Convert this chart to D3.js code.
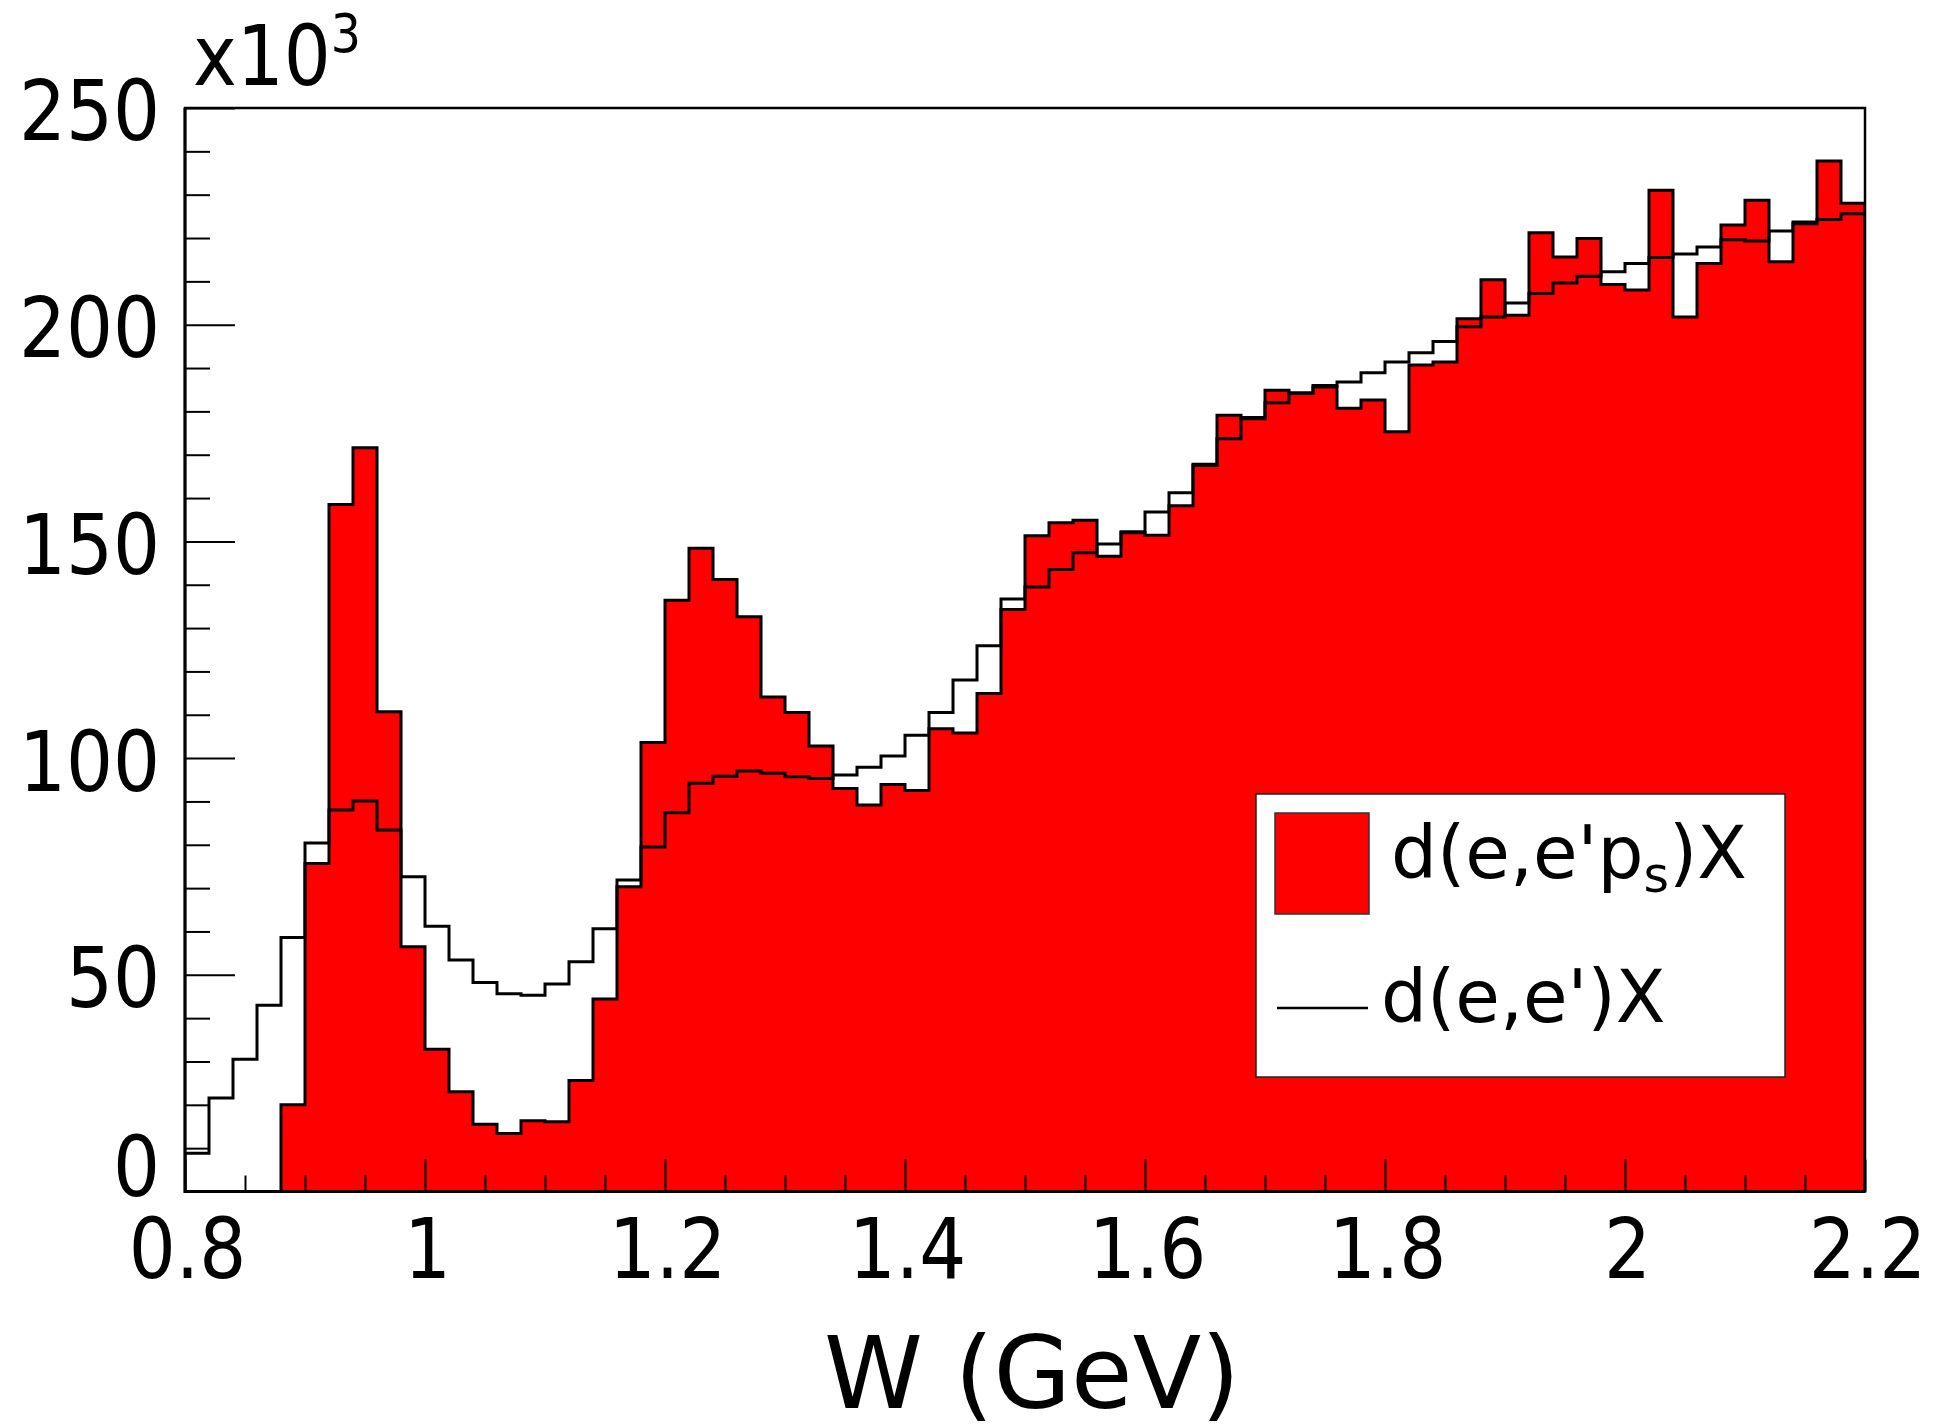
<!DOCTYPE html>
<html><head><meta charset="utf-8">
<script src="https://cdn.jsdelivr.net/npm/d3@7/dist/d3.min.js"></script>
<style>body{margin:0;background:#fff}svg{display:block}</style>
</head><body>
<script>
// ---- data (counts in units of 10^3), bins of 0.02 GeV from 0.8 to 2.2 ----
const wMin = 0.8, wMax = 2.2, binWidth = 0.02;
const depsX = [0,0,0,0,20.0,75.7,158.5,171.6,110.7,56.5,
  32.8,23.0,15.5,13.4,16.3,16.1,25.6,44.4,70.3,103.6,
  136.4,148.4,141.2,132.6,114.1,110.5,102.8,93.0,89.2,93.9,
  92.5,106.8,105.8,114.9,134.3,151.3,154.3,154.9,146.6,152.0,
  151.4,158.2,167.5,179.1,178.3,184.9,184.1,185.6,180.7,182.6,
  175.3,190.7,191.4,201.4,210.4,202.2,221.2,215.6,219.9,209.3,
  208.0,231.0,201.8,214.1,223.0,228.7,214.5,223.3,237.8,228.0];
const deX = [8.8,21.6,30.5,43.0,58.6,80.4,88.0,90.1,83.4,72.6,
  61.2,53.4,48.2,45.6,45.3,47.9,53.0,60.6,71.9,79.5,
  87.4,94.2,95.8,97.0,96.5,95.7,95.3,96.1,97.9,100.5,
  105.3,110.5,118.0,125.9,136.7,139.5,143.5,147.4,149.4,152.2,
  156.8,161.2,167.8,173.7,178.6,182.0,184.3,186.0,186.8,188.9,
  191.4,193.5,196.1,199.5,201.8,205.0,207.2,209.6,211.2,212.2,
  214.1,215.5,216.3,217.9,219.6,219.3,221.6,223.7,224.3,225.6];
const yMajorTicks = [0,50,100,150,200,250];
const yTickLabels = ["0","50","100","150","200","250"];
const xMajorTicks = [0.8,1.0,1.2,1.4,1.6,1.8,2.0,2.2];
const xTickLabels = ["0.8","1","1.2","1.4","1.6","1.8","2","2.2"];
const seriesNames = ["d(e,e'p", "s", ")X", "d(e,e')X"];
const xTitle = "W (GeV)";

// ---- layout ----
const W = 1937, H = 1426;
const L = 185, R = 1865, T = 108, B = 1191.5;
const red = "#ff0000";
const lblScale = 0.88, lblSize = 84;

const svg = d3.select("body").append("svg").attr("width", W).attr("height", H)
  .style("font-family", "'DejaVu Sans', sans-serif");

const x = d3.scaleLinear().domain([wMin, wMax]).range([L, R]);
const y = d3.scaleLinear().domain([0, 250]).range([B, T]);

const binLow = d3.range(depsX.length).map(i => +(wMin + i * binWidth).toFixed(4));
function stepPoints(vals) {
  const pts = [[wMin, 0]];
  vals.forEach((v, i) => { pts.push([binLow[i], v]); pts.push([binLow[i] + binWidth, v]); });
  pts.push([wMax, 0]);
  return pts;
}

svg.append("defs").append("clipPath").attr("id", "clip")
  .append("rect").attr("x", L).attr("y", T).attr("width", R - L).attr("height", B - T);

const g = svg.append("g").attr("clip-path", "url(#clip)");
const area = d3.area().x(d => x(d[0])).y0(y(0)).y1(d => y(d[1]));
const line = d3.line().x(d => x(d[0])).y(d => y(d[1]));

g.append("path").attr("d", area(stepPoints(depsX))).attr("fill", red);
g.append("path").attr("d", line(stepPoints(depsX))).attr("fill", "none")
  .attr("stroke", "#000").attr("stroke-width", 3).attr("stroke-linejoin", "miter");
g.append("path").attr("d", line(stepPoints(deX))).attr("fill", "none")
  .attr("stroke", "#000").attr("stroke-width", 3).attr("stroke-linejoin", "miter");

// ---- axes ----
const yMinor = d3.range(0, 251, 10).filter(v => v % 50 !== 0);
const xMinor = d3.range(0.8, 2.2001, 0.05).map(v => +v.toFixed(2)).filter(v => Math.abs(v * 5 - Math.round(v * 5)) > 1e-6);

const yMinAx = svg.append("g").attr("transform", `translate(${L},0)`)
  .call(d3.axisLeft(y).tickValues(yMinor).tickSize(-25).tickFormat(""));
const yMajAx = svg.append("g").attr("transform", `translate(${L},0)`)
  .call(d3.axisLeft(y).tickValues(yMajorTicks).tickSize(-50).tickPadding(25)
    .tickFormat((d, i) => yTickLabels[i]));
const xMinAx = svg.append("g").attr("transform", `translate(0,${B})`)
  .call(d3.axisBottom(x).tickValues(xMinor).tickSize(-16).tickFormat(""));
const xMajAx = svg.append("g").attr("transform", `translate(0,${B})`)
  .call(d3.axisBottom(x).tickValues(xMajorTicks).tickSize(-32)
    .tickFormat((d, i) => xTickLabels[i]));

[yMinAx, yMajAx, xMinAx, xMajAx].forEach(a => {
  a.select(".domain").remove();
  a.selectAll(".tick line").attr("stroke", "#000").attr("stroke-width", 2);
});
yMajAx.selectAll(".tick text")
  .attr("x", 0).attr("dy", d => d === 0 ? "0.05em" : "0.38em")
  .attr("transform", `translate(-25,0) scale(${lblScale},1)`)
  .attr("font-size", lblSize).attr("font-family", "'DejaVu Sans', sans-serif").attr("fill", "#000");
xMajAx.selectAll(".tick text")
  .attr("y", 0).attr("dy", 0).attr("x", 0)
  .attr("transform", `translate(2,86.5) scale(${lblScale},1)`)
  .attr("font-size", lblSize).attr("font-family", "'DejaVu Sans', sans-serif").attr("fill", "#000");

// frame
svg.append("rect").attr("x", L).attr("y", T).attr("width", R - L).attr("height", B - T)
  .attr("fill", "none").attr("stroke", "#000").attr("stroke-width", 2.5);
svg.append("path").attr("d", `M${L},${T}V${B}H${R}`).attr("fill", "none")
  .attr("stroke", "#000").attr("stroke-width", 3);

// x10^3 exponent
const ex = svg.append("g").attr("transform", `translate(193,85) scale(${lblScale},1)`);
const ext = ex.append("text").attr("font-size", lblSize).attr("fill", "#000").text("x10");
ext.append("tspan").attr("font-size", 54).attr("dy", -33).text("3");

// x title
svg.append("text").attr("x", 1032).attr("y", 1408).attr("text-anchor", "middle")
  .attr("font-size", 100).attr("fill", "#000").text(xTitle);

// legend
const lg = svg.append("g");
lg.append("rect").attr("x", 1256).attr("y", 794).attr("width", 529).attr("height", 283)
  .attr("fill", "#fff").attr("stroke", "#222").attr("stroke-width", 1.5);
lg.append("rect").attr("x", 1275).attr("y", 813).attr("width", 94).attr("height", 101)
  .attr("fill", red).attr("stroke", "#333").attr("stroke-width", 1.5);
const t1 = lg.append("text").attr("x", 1391).attr("y", 878).attr("font-size", 72.5).attr("fill", "#000");
t1.append("tspan").text(seriesNames[0]);
t1.append("tspan").attr("font-size", 49).attr("dy", 14).text(seriesNames[1]);
t1.append("tspan").attr("dy", -14).text(seriesNames[2]);
lg.append("line").attr("x1", 1277).attr("x2", 1368).attr("y1", 1008).attr("y2", 1008)
  .attr("stroke", "#000").attr("stroke-width", 2.5);
lg.append("text").attr("x", 1381).attr("y", 1022).attr("font-size", 72.5).attr("fill", "#000")
  .text(seriesNames[3]);
</script>
</body></html>
